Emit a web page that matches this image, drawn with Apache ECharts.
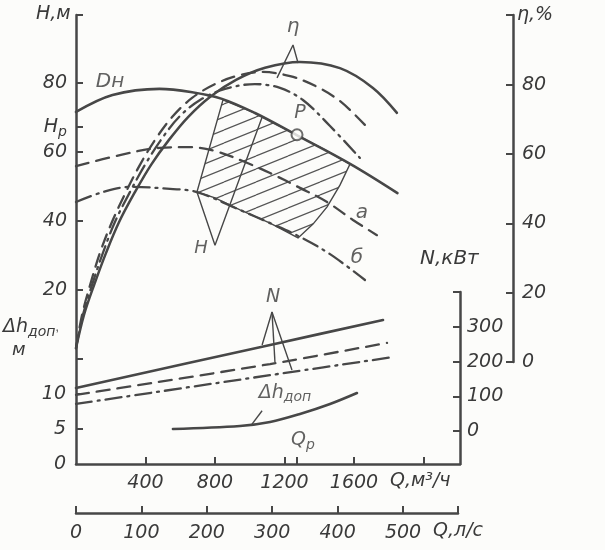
<!DOCTYPE html>
<html><head><meta charset="utf-8">
<script src="https://cdn.jsdelivr.net/npm/echarts@6/dist/echarts.min.js"></script>
<style>html,body{margin:0;padding:0;background:#fcfcfa}#c{width:605px;height:550px}</style>
</head><body><div id="c"></div>
<script>
// ---- data (Q in m3/h) ----
// head curves H (m)
const dnQ = [0,210,480,660,840,1030,1270,1580,1850];
const dnH = [71.6,76.5,78.3,77.4,75.4,71.3,64.9,56.5,48.1];
const aQ = [0,253,483,656,800,973,1117,1289,1445,1594,1732];
const aH = [55.9,59.1,61.2,61.4,60.3,57.1,53.9,49.6,45.5,40.3,35.9];
const bQ = [0,155,311,541,696,944,1117,1289,1462,1663];
const bH = [45.5,48.4,49.9,49.3,48.4,43.2,39.4,35.4,30.4,22.9];
// efficiency curves (%)
const etaSolidQ = [0,46,104,173,248,340,432,535,645,771,921,1088,1289,1519,1709,1847];
const etaSolid  = [4.0,13.6,22.2,31.5,40.4,49.1,56.9,64.1,70.7,76.5,81.4,84.9,86.6,84.8,79.1,71.9];
const etaDashQ = [0,35,81,138,207,288,368,455,553,668,800,944,1071,1232,1376,1519,1663];
const etaDash  = [4.0,13.6,22.2,31.5,40.4,49.1,56.9,64.1,70.7,76.2,80.2,82.8,83.7,82.5,79.7,75.3,68.4];
const etaDotQ = [0,40,92,155,224,311,397,489,593,714,858,1030,1174,1306,1462,1634];
const etaDot  = [4.0,13.6,22.2,31.5,40.4,49.1,56.9,64.1,70.7,75.6,78.8,80.2,79.1,75.6,68.1,58.9];
// power curves N (kW)
const nSolidQ = [0,1117,1767], nSolid = [124,248,320];
const nDashQ  = [0,1117,1790], nDash  = [104,193,254];
const nDotQ   = [0,1117,1824], nDot   = [78,161,213];
// allowable cavitation reserve (m)
const dhQ = [558,944,1117,1289,1462,1617];
const dhV = [5.0,5.43,6.0,7.14,8.57,10.14];
// working field (hatched)
const fieldQ = [846,1030,1272,1433,1577,1519,1445,1364,1278,1117,944,800,696];
const fieldH = [75.1,71.3,64.9,60.6,56.5,50.4,44.1,39.1,35.1,39.4,43.2,46.7,48.4];
// zigzag boundary "H"
const zigQ = [696,800,1071];
const zigH = [48.4,33.0,70.1];
// operating point
const pointP = [1272,65.0];
const Hp = 67.2;
// leaders
const etaLeadQ = [1157,1249,1278], etaLead = [82.0,91.5,86.3];
const nLeadQ = [1071,1128,1243], nLead = [248,343,176];
const nLeadMidQ = [1128,1145], nLeadMid = [343,199];
const dhLeadQ = [1071,1013], dhLead = [7.6,5.7];
// axis ticks
const qTicks = [400,800,1200,1600,2000,1272];
const qLabels = [400,800,1200,1600];
const lsTicks = [0,100,200,300,400,500];
const hTicks = [20,40,60,80];
const dhTicks = [0,5,10];
const etaTicks = [0,20,40,60,80];
const nTicks = [0,100,200,300];

const F = "'DejaVu Sans', sans-serif";
const INK = '#474747', TXT = '#3a3a3a';
const zip = (a,b)=>a.map((v,i)=>[v,b[i]]);

const hatch = (()=>{const c=document.createElement('canvas');c.width=32;c.height=13;const g=c.getContext('2d');
  g.strokeStyle='#555';g.lineWidth=1.2;g.beginPath();
  for(let k=-1;k<=1;k++){g.moveTo(0,13+13*k);g.lineTo(32,13*k);} g.stroke();return c;})();

const baseLbl = {fontFamily:F,fontStyle:'italic',fontSize:19,color:TXT};
const rich = {i:{fontFamily:F,fontStyle:'italic',fontSize:19,color:TXT},s:{fontFamily:F,fontStyle:'italic',fontSize:14,color:TXT,padding:[10,0,0,0]}};
const plain = v=>String(v);

function ln(name,q,v,xi,yi,type,w,sm){return {name,type:'line',xAxisIndex:xi,yAxisIndex:yi,data:zip(q,v),smooth:sm===undefined?0.35:sm,showSymbol:false,symbol:'none',
  lineStyle:{color:INK,width:w||2.4,type:type||'solid',cap:'round'},silent:true,animation:false};}
function seg(q,v,xi,yi){return {type:'line',xAxisIndex:xi,yAxisIndex:yi,data:zip(q,v),showSymbol:false,symbol:'none',lineStyle:{color:INK,width:1.4},silent:true,animation:false};}
function lab(items,xi,yi){return {type:'scatter',xAxisIndex:xi,yAxisIndex:yi,symbolSize:0,silent:true,animation:false,
  data:items.map(t=>({value:[t[1],t[2]],label:{show:true,position:'inside',formatter:t[0],rich,...baseLbl,fontSize:t[3]||19}}))};}

const tickBase = (vals,len)=>({show:true,inside:true,length:len||7,customValues:vals,lineStyle:{color:INK,width:2}});
const lineBase = {show:true,onZero:false,lineStyle:{color:INK,width:2.5}};

const option = {
  backgroundColor:'#fcfcfa',
  animation:false,
  grid:[
    {left:76,top:15,width:384,height:449},
    {left:76,top:292,width:384,height:172},
    {left:76,top:15,width:384,height:347},
    {left:76,top:503,width:382,height:10}
  ],
  xAxis:[
    {gridIndex:0,type:'value',min:0,max:2210,axisLine:lineBase,axisTick:tickBase(qTicks),splitLine:{show:false},
      axisLabel:{customValues:qLabels,margin:10,formatter:plain,...baseLbl}},
    {gridIndex:1,type:'value',min:0,max:2210,show:false},
    {gridIndex:2,type:'value',min:0,max:2210,show:false},
    {gridIndex:3,type:'value',min:0,max:584,position:'bottom',axisLine:lineBase,axisTick:tickBase(lsTicks.concat([584])),splitLine:{show:false},
      axisLabel:{customValues:lsTicks,margin:11,formatter:plain,...baseLbl}}
  ],
  yAxis:[
    {gridIndex:0,type:'value',min:-30.43,max:99.71,position:'left',axisLine:lineBase,axisTick:tickBase(hTicks.concat([Hp,99.71])),splitLine:{show:false},
      axisLabel:{customValues:hTicks.concat([Hp]),margin:9,...baseLbl,rich,formatter:v=>Math.abs(v-Hp)<0.01?'{i|H}{s|p}':String(v)}},
    {gridIndex:0,type:'value',min:0,max:64.14,position:'left',axisLine:{show:false},axisTick:tickBase([5,10,15]),splitLine:{show:false},
      axisLabel:{customValues:dhTicks,margin:10,formatter:plain,...baseLbl}},
    {gridIndex:1,type:'value',min:-95.1,max:400.6,position:'right',axisLine:lineBase,axisTick:tickBase(nTicks.concat([400.6])),splitLine:{show:false},
      axisLabel:{customValues:nTicks,margin:7,formatter:plain,...baseLbl}},
    {gridIndex:2,type:'value',min:0,max:100.14,position:'right',offset:53,axisLine:lineBase,axisTick:tickBase(etaTicks.concat([100.14])),splitLine:{show:false},
      axisLabel:{customValues:etaTicks,margin:9,formatter:plain,...baseLbl}},
    {gridIndex:3,type:'value',min:0,max:1,show:false}
  ],
  graphic:[
    {type:'text',left:36,top:5,style:{text:'H,м',font:"italic 19px "+F,fill:TXT}},
    {type:'text',left:517,top:6,style:{text:'η,%',font:"italic 19px "+F,fill:TXT}},
    {type:'text',left:420,top:249,style:{text:'N,кВт',font:"italic 20px "+F,fill:TXT}},
    {type:'text',left:3,top:318,style:{text:'{i|Δh}{s|доп},',rich,fill:TXT}},
    {type:'text',left:12,top:341,style:{text:'м',font:"italic 18px "+F,fill:TXT}},
    {type:'text',left:390,top:472,style:{text:'Q,м³/ч',font:"italic 19px "+F,fill:TXT}},
    {type:'text',left:433,top:522,style:{text:'Q,л/с',font:"italic 19px "+F,fill:TXT}}
  ],
  series:[
    {type:'custom',xAxisIndex:0,yAxisIndex:0,silent:true,animation:false,data:zip(fieldQ,fieldH),
      renderItem:(params,api)=>{ if(params.dataIndex!==0) return null;
        const pts=fieldQ.map((q,i)=>api.coord([q,fieldH[i]]));
        return {type:'polygon',shape:{points:pts},style:{fill:{image:hatch,repeat:'repeat'},stroke:INK,lineWidth:1.4}};}},
    ln('Dн',dnQ,dnH,0,0,'solid',2.6),
    ln('а',aQ,aH,0,0,[13,8],2.3),
    ln('б',bQ,bH,0,0,[16,6,2,6],2.3),
    seg(zigQ,zigH,0,0),
    ln('η Dн',etaSolidQ,etaSolid,2,3,'solid',2.5),
    ln('η а',etaDashQ,etaDash,2,3,[13,8],2.3),
    ln('η б',etaDotQ,etaDot,2,3,[16,6,2,6],2.3),
    seg(etaLeadQ,etaLead,2,3),
    ln('N Dн',nSolidQ,nSolid,1,2,'solid',2.6,0.3),
    ln('N а',nDashQ,nDash,1,2,[13,8],2.3,0.3),
    ln('N б',nDotQ,nDot,1,2,[16,6,2,6],2.3,0.3),
    seg(nLeadQ,nLead,1,2),
    seg(nLeadMidQ,nLeadMid,1,2),
    ln('Δh',dhQ,dhV,0,1,'solid',2.6),
    seg(dhLeadQ,dhLead,0,1),
    {type:'scatter',xAxisIndex:0,yAxisIndex:0,data:[pointP],symbol:'circle',symbolSize:11,itemStyle:{color:'#fcfcfa',borderColor:INK,borderWidth:2},silent:true,animation:false,z:5},
    lab([['Dн',196,80.3,20],['а',1646,42.3,20],['б',1617,29.3,20],['H',719,32.2,18],['P',1289,71.3,19],['{i|Q}{s|p}',1306,-23.5]],0,0),
    lab([['η',1249,96.7,20]],2,3),
    lab([['N',1134,386,19]],1,2),
    lab([['{i|Δh}{s|доп}',1203,10.2]],0,1)
  ]
};
echarts.init(document.getElementById('c'),null,{renderer:'canvas'}).setOption(option);
</script></body></html>
